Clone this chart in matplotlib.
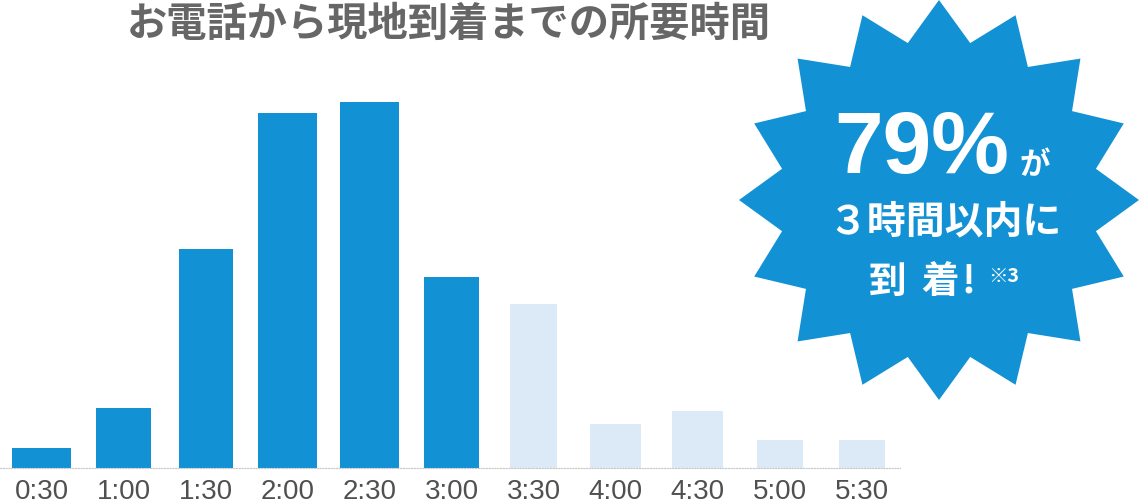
import numpy as np
import matplotlib
matplotlib.use("Agg")
import matplotlib.pyplot as plt
from matplotlib.patches import Polygon

# ---- data ----
categories = ["0:30", "1:00", "1:30", "2:00", "2:30", "3:00",
              "3:30", "4:00", "4:30", "5:00", "5:30"]
shares = [1.3, 3.9, 14.3, 23.2, 23.9, 12.5, 10.7, 2.9, 3.7, 1.8, 1.8]  # percent
within_3h = [True] * 6 + [False] * 5
title = "お電話から現地到着までの所要時間"
badge_pct = "79%"

# ---- style ----
DARK = "#1292D4"
LIGHT = "#DCE9F6"
W, H = 1140, 504
bar_widths = [0.72, 0.67, 0.66, 0.72, 0.72, 0.67, 0.57, 0.62, 0.62, 0.57, 0.56]

fig = plt.figure(figsize=(W / 100, H / 100), dpi=100)
fig.patch.set_facecolor("white")

ax = fig.add_axes([0, 36 / H, 900 / W, 468 / H])
x = np.arange(len(categories))
colors = [DARK if f else LIGHT for f in within_3h]
ax.bar(x, shares, width=bar_widths, color=colors, linewidth=0)
ax.set_xlim(-41.5 / 82.05, (900 - 41.5) / 82.05)
ax.set_ylim(0, 23.9 * 468 / 366)
for s in ["top", "left", "right"]:
    ax.spines[s].set_visible(False)
ax.spines["bottom"].set_color("#c8c8c8")
ax.spines["bottom"].set_linestyle((0, (1, 1.5)))
ax.spines["bottom"].set_linewidth(0.8)
ax.set_yticks([])
ax.set_xticks(x)
ax.set_xticklabels(categories, fontsize=20, color="#505050",
                   family=["Liberation Sans", "DejaVu Sans"])
ax.tick_params(axis="x", length=0, pad=8)
ax.set_facecolor("none")

# title
fig.text(449 / W, 1 - 24 / H, title, ha="center", va="center",
         fontsize=29, fontweight="bold", color="#666666",
         family=["Noto Sans CJK JP", "DejaVu Sans"])

# ---- starburst badge (decoration in pixel coords) ----
bx = fig.add_axes([0, 0, 1, 1])
bx.set_xlim(0, W)
bx.set_ylim(H, 0)
bx.axis("off")
bx.patch.set_alpha(0)
cx, cy = 939, 200
n = 16
pts = []
for k in range(2 * n):
    ang = np.pi / 2 - k * np.pi / n
    r = 200 if k % 2 == 0 else 160
    pts.append((cx + r * np.cos(ang), cy - r * np.sin(ang)))
bx.add_patch(Polygon(pts, closed=True, facecolor=DARK, edgecolor="none"))

jp = ["Noto Sans CJK JP", "DejaVu Sans"]
bx.text(922, 150, badge_pct, ha="center", va="center", fontsize=63,
        fontweight="bold", color="white", family=["Liberation Sans", "DejaVu Sans"])
bx.text(1035, 165, "が", ha="center", va="center", fontsize=22,
        fontweight="bold", color="white", family=jp)
bx.text(945, 222, "３時間以内に", ha="center", va="center", fontsize=28,
        fontweight="bold", color="white", family=jp)
bx.text(888, 281, "到", ha="center", va="center", fontsize=27,
        fontweight="bold", color="white", family=jp)
bx.text(940, 281, "着", ha="center", va="center", fontsize=27,
        fontweight="bold", color="white", family=jp)
bx.text(968, 281, "!", ha="center", va="center", fontsize=27,
        fontweight="bold", color="white", family=jp)
bx.text(1004, 276, "※3", ha="center", va="center", fontsize=14,
        fontweight="bold", color="white", family=jp)

fig.savefig("out.png", dpi=100, facecolor="white")
